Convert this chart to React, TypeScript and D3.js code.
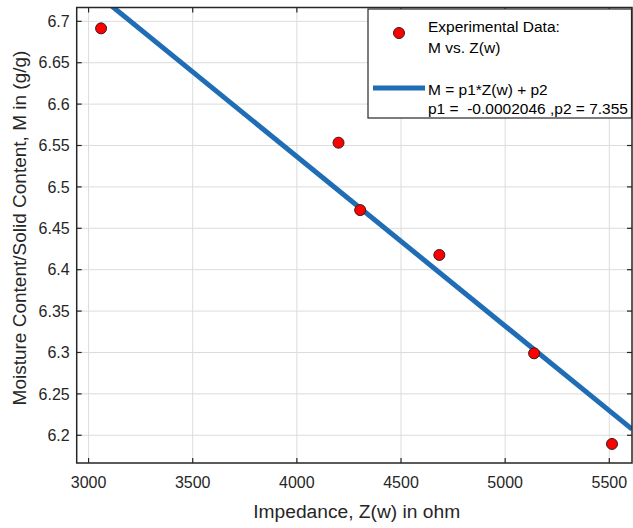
import React from "react";
import * as d3 from "d3";

const impedance = [3060, 4200, 4304, 4684, 5139, 5513];
const moisture = [6.6915, 6.5534, 6.472, 6.4178, 6.299, 6.1895];
const xTicks = [3000, 3500, 4000, 4500, 5000, 5500];
const yTicks = [6.2, 6.25, 6.3, 6.35, 6.4, 6.45, 6.5, 6.55, 6.6, 6.65, 6.7];
const fitP1 = -0.0002046;
const fitP2 = 7.355;
const xDomain = [2943, 5609];
const yDomain = [6.1665, 6.7167];

const W = 633;
const H = 528;
const L = 76.7, R = 632, T = 7.5, B = 463;
const FONT = "'Liberation Sans', Arial, Helvetica, sans-serif";

export default function App() {
  const x = d3.scaleLinear().domain(xDomain).range([L, R]);
  const y = d3.scaleLinear().domain(yDomain).range([B, T]);
  const axisColor = "#262626";
  const grid = "#dcdcdc";
  const line = d3.line<number>().x((d) => x(d)).y((d) => y(fitP1 * d + fitP2));
  const fitPath = line([xDomain[0], xDomain[1]]);
  const tl = 5;
  return (
    <svg width={W} height={H} style={{ position: "absolute", left: 0, top: 0, background: "#fff" }} fontFamily={FONT}>
      <defs>
        <clipPath id="plotclip">
          <rect x={L} y={T} width={R - L} height={B - T} />
        </clipPath>
      </defs>
      <rect x={0} y={0} width={W} height={H} fill="#fff" />
      {xTicks.map((t) => (
        <line key={"gx" + t} x1={x(t)} x2={x(t)} y1={T} y2={B} stroke={grid} strokeWidth={1} />
      ))}
      {yTicks.map((t) => (
        <line key={"gy" + t} x1={L} x2={R} y1={y(t)} y2={y(t)} stroke={grid} strokeWidth={1} />
      ))}
      <g clipPath="url(#plotclip)">
        <path d={fitPath || ""} fill="none" stroke="#1f6db5" strokeWidth={5} />
      </g>
      {impedance.map((v, i) => (
        <circle key={"p" + i} cx={x(v)} cy={y(moisture[i])} r={5.5} fill="#ff0000" stroke="#3a1a1a" strokeWidth={1} />
      ))}
      <rect x={L} y={T} width={R - L} height={B - T} fill="none" stroke={axisColor} strokeWidth={1.5} />
      {xTicks.map((t) => (
        <g key={"tx" + t}>
          <line x1={x(t)} x2={x(t)} y1={B} y2={B - tl} stroke={axisColor} strokeWidth={1.2} />
          <line x1={x(t)} x2={x(t)} y1={T} y2={T + tl} stroke={axisColor} strokeWidth={1.2} />
          <text x={x(t)} y={B + 25} textAnchor="middle" fontSize={16} fill="#262626">{t}</text>
        </g>
      ))}
      {yTicks.map((t) => (
        <g key={"ty" + t}>
          <line x1={L} x2={L + tl} y1={y(t)} y2={y(t)} stroke={axisColor} strokeWidth={1.2} />
          <line x1={R} x2={R - tl} y1={y(t)} y2={y(t)} stroke={axisColor} strokeWidth={1.2} />
          <text x={L - 7} y={y(t) + 5.7} textAnchor="end" fontSize={16} fill="#262626">{String(t)}</text>
        </g>
      ))}
      <text x={356.7} y={518} textAnchor="middle" fontSize={19.2} fill="#262626">Impedance, Z(w) in ohm</text>
      <text transform={`translate(26, 228) rotate(-90)`} textAnchor="middle" fontSize={19} fill="#262626">Moisture Content/Solid Content, M in (g/g)</text>
      <rect x={368} y={9} width={263.5} height={109} fill="#fff" stroke={axisColor} strokeWidth={1.2} />
      <circle cx={399} cy={33} r={5.5} fill="#ff0000" stroke="#3a1a1a" strokeWidth={1} />
      <text x={428} y={31.5} fontSize={15.5} fill="#000">Experimental Data:</text>
      <text x={428} y={52.5} fontSize={15.5} fill="#000">M vs. Z(w)</text>
      <line x1={373} x2={425} y1={88} y2={88} stroke="#1f6db5" strokeWidth={5} />
      <text x={428} y={95} fontSize={15.5} fill="#000">M = p1*Z(w) + p2</text>
      <text x={428} y={113.5} fontSize={15.5} fill="#000" style={{ whiteSpace: "pre" }}>{"p1 =  -0.0002046 ,p2 = 7.355"}</text>
    </svg>
  );
}
